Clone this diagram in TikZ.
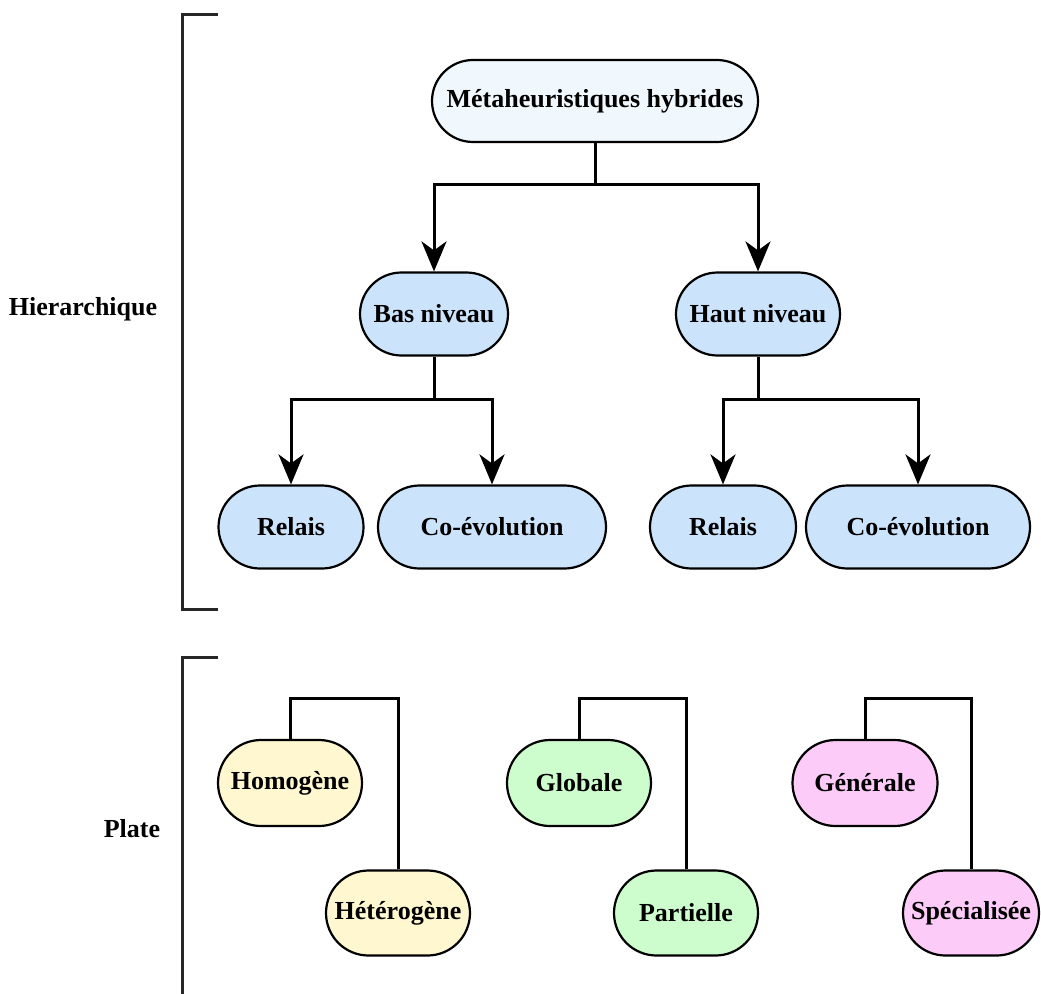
\documentclass[tikz,border=0pt]{standalone}
\usepackage{fontspec}
\setmainfont{Liberation Serif}
\usetikzlibrary{arrows.meta,shapes.misc}
\definecolor{topfill}{HTML}{F0F7FD}
\definecolor{bluefill}{HTML}{CCE4FB}
\definecolor{yellowfill}{HTML}{FFF7CF}
\definecolor{greenfill}{HTML}{CDFDCD}
\definecolor{pinkfill}{HTML}{FDCBF7}
\tikzset{
  box/.style={draw=black, line width=2.2pt, rounded rectangle, inner sep=0pt,
    font=\fontsize{26}{30}\selectfont\bfseries},
  lbl/.style={font=\fontsize{26}{30}\selectfont\bfseries, inner sep=0pt},
  conn/.style={line width=3pt},
  arr/.style={line width=3pt, -{Stealth[length=30pt,width=25pt,inset=9pt]}},
  brk/.style={line width=3pt, color=black!85}
}
\begin{document}
\begin{tikzpicture}[x=1pt,y=-1pt]
\useasboundingbox (0,0) rectangle (1041,993);
% brackets
\coordinate (b1a) at (218,14);
\coordinate (b1b) at (182,14);
\coordinate (b1c) at (182,609);
\coordinate (b1d) at (218,609);
\draw[brk] (b1a) -- (b1b) -- (b1c) -- (b1d);
\coordinate (b2a) at (218,657);
\coordinate (b2b) at (182,657);
\coordinate (b2c) at (182,1000);
\draw[brk] (b2a) -- (b2b) -- (b2c);
\node[lbl] (hier) at (83,309) {Hierarchique};
\node[lbl] (plate) at (132,829) {Plate};
% nodes
\node[box, fill=topfill, minimum width=326pt, minimum height=82pt] (meta) at (595,101) {Métaheuristiques hybrides};
\node[box, fill=bluefill, minimum width=148pt, minimum height=83pt] (bas) at (434,314) {Bas niveau};
\node[box, fill=bluefill, minimum width=164pt, minimum height=83pt] (haut) at (758,314) {Haut niveau};
\node[box, fill=bluefill, minimum width=145pt, minimum height=83pt] (rel1) at (291,527) {Relais};
\node[box, fill=bluefill, minimum width=228pt, minimum height=83pt] (coe1) at (492,527) {Co-évolution};
\node[box, fill=bluefill, minimum width=146pt, minimum height=83pt] (rel2) at (723,527) {Relais};
\node[box, fill=bluefill, minimum width=224pt, minimum height=83pt] (coe2) at (918,527) {Co-évolution};
\node[box, fill=yellowfill, minimum width=144pt, minimum height=86pt] (homo) at (290,783) {Homogène};
\node[box, fill=yellowfill, minimum width=144pt, minimum height=85pt] (hete) at (398,913) {Hétérogène};
\node[box, fill=greenfill, minimum width=144pt, minimum height=86pt] (glob) at (579,783) {Globale};
\node[box, fill=greenfill, minimum width=144pt, minimum height=85pt] (part) at (686,913) {Partielle};
\node[box, fill=pinkfill, minimum width=145pt, minimum height=86pt] (gene) at (865,783) {Générale};
\node[box, fill=pinkfill, minimum width=136pt, minimum height=85pt] (spec) at (971,913) {Spécialisée};
% connectors
\draw[conn] (meta.south) -- ++(0,41) coordinate (mj);
\draw[arr] (mj) -| (bas.north);
\draw[arr] (mj) -| (haut.north);
\draw[conn] (bas.south) -- ++(0,43) coordinate (bj);
\draw[arr] (bj) -| (rel1.north);
\draw[arr] (bj) -| (coe1.north);
\draw[conn] (haut.south) -- ++(0,43) coordinate (hj);
\draw[arr] (hj) -| (rel2.north);
\draw[arr] (hj) -| (coe2.north);
\draw[conn] (homo.north) |- (398,698) -- (hete.north);
\draw[conn] (glob.north) |- (686,698) -- (part.north);
\draw[conn] (gene.north) |- (971,698) -- (spec.north);
\end{tikzpicture}
\end{document}
